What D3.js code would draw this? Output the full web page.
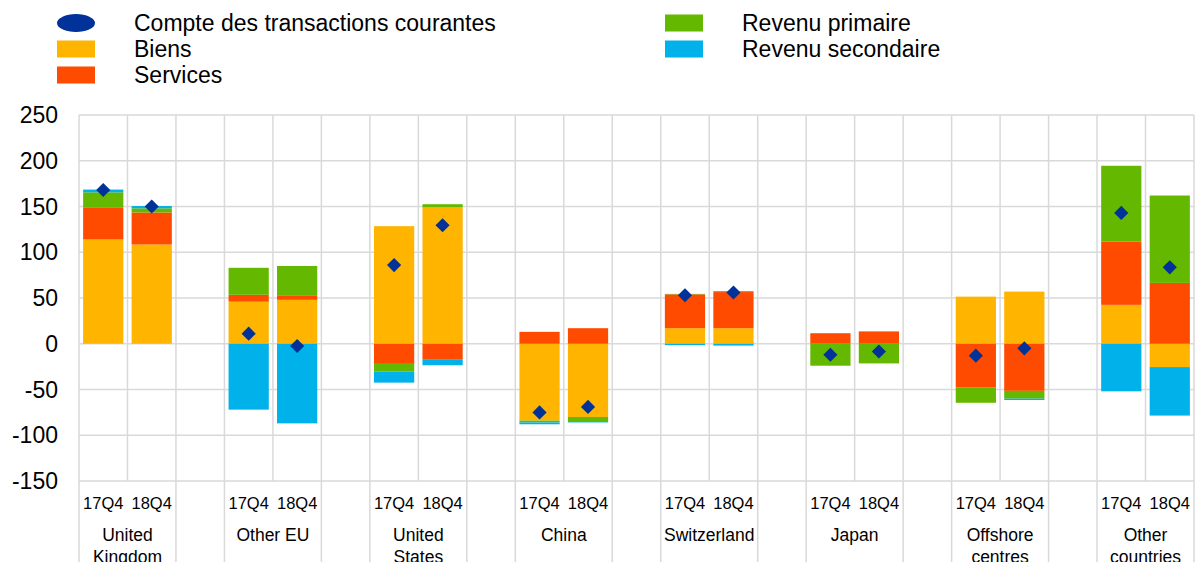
<!DOCTYPE html>
<html>
<head>
<meta charset="utf-8">
<script src="https://cdn.jsdelivr.net/npm/d3@7"></script>
<style>
  body { margin: 0; background: #fff; }
  svg { display: block; font-family: "Liberation Sans", Arial, sans-serif; }
</style>
</head>
<body>
<svg id="chart" width="1196" height="562"></svg>
<script>
// categories
const countries = ["United\nKingdom", "Other EU", "United\nStates", "China", "Switzerland", "Japan", "Offshore\ncentres", "Other\ncountries"]
const periods = ["17Q4", "18Q4"]

// components, [17Q4, 18Q4] per country
const goods     = [[114, 108.5], [46, 48], [128.5, 149], [-84, -80], [17, 17], [0, 0], [51.5, 57], [42.5, -25.5]]
const services  = [[34.5, 35], [7.5, 5], [-22, -17.5], [13, 17], [37, 39.5], [11.5, 13.5], [-47.5, -51.5], [69, 66.5]]
const primary   = [[17, 4.5], [29.5, 32], [-8.5, 3.5], [-2, -4.5], [0.5, 1], [-24, -21.5], [-17, -8.5], [83, 95.5]]
const secondary = [[3, 2.5], [-72, -87], [-12, -6], [-2, -1.5], [-1.5, -2], [0, 0], [0, -1.5], [-52, -53]]
const current   = [[168, 150], [11, -2.5], [86, 129.5], [-75, -69], [53, 56], [-12, -8.5], [-13, -5], [143, 83.5]]

const yTicks = [250, 200, 150, 100, 50, 0, -50, -100, -150]

const series = [
  { name: 'Biens', values: goods, color: '#ffb400' },
  { name: 'Services', values: services, color: '#ff4b00' },
  { name: 'Revenu primaire', values: primary, color: '#65b800' },
  { name: 'Revenu secondaire', values: secondary, color: '#00b1ea' }
]

const svg = d3.select('#chart')
const plotL = 79, plotR = 1194, plotT = 115, plotB = 481

// slot keys: two periods per country plus a gap slot between countries
const slots = []
countries.forEach((c, i) => {
  periods.forEach(p => slots.push(i + '|' + p))
  if (i < countries.length - 1) slots.push(i + '|gap')
})

const x = d3.scaleBand().domain(slots).range([plotL, plotR]).padding(0)
const y = d3.scaleLinear().domain([-150, 250]).range([plotB, plotT])
const bw = x.bandwidth()
const barW = bw * 0.83

// grid
const grid = svg.append('g').attr('stroke', '#d9d9d9').attr('stroke-width', 1.5)
grid.selectAll('line.h').data(yTicks).enter().append('line')
  .attr('x1', plotL).attr('x2', plotR)
  .attr('y1', d => y(d)).attr('y2', d => y(d))
const bounds = slots.map(s => x(s)).concat([plotR])
grid.selectAll('line.v').data(bounds).enter().append('line')
  .attr('x1', d => d).attr('x2', d => d)
  .attr('y1', plotT).attr('y2', plotB)
// group separators in the label area
const groupEdges = []
countries.forEach((c, i) => {
  groupEdges.push(x(i + '|17Q4'))
  groupEdges.push(x(i + '|18Q4') + bw)
})
grid.selectAll('line.g').data(groupEdges).enter().append('line')
  .attr('x1', d => d).attr('x2', d => d)
  .attr('y1', plotB).attr('y2', 562)

// y axis labels
svg.append('g').selectAll('text').data(yTicks).enter().append('text')
  .attr('x', 58).attr('y', d => y(d)).attr('dy', '0.35em')
  .attr('text-anchor', 'end').attr('font-size', 23).attr('fill', '#000')
  .text(d => d)

// stacked bars (positives up, negatives down)
const rects = []
countries.forEach((c, i) => {
  periods.forEach((p, j) => {
    let pos = 0, neg = 0
    series.forEach(s => {
      const v = s.values[i][j]
      if (v >= 0) { rects.push({ key: i + '|' + p, y0: pos, y1: pos + v, color: s.color }); pos += v }
      else { rects.push({ key: i + '|' + p, y0: neg + v, y1: neg, color: s.color }); neg += v }
    })
  })
})
svg.append('g').selectAll('rect').data(rects.filter(d => d.y1 - d.y0 > 0)).enter().append('rect')
  .attr('x', d => x(d.key) + (bw - barW) / 2)
  .attr('width', barW)
  .attr('y', d => y(d.y1))
  .attr('height', d => y(d.y0) - y(d.y1))
  .attr('fill', d => d.color)

// current account diamonds
const pts = []
countries.forEach((c, i) => periods.forEach((p, j) => pts.push({ key: i + '|' + p, v: current[i][j] })))
svg.append('g').selectAll('path').data(pts).enter().append('path')
  .attr('transform', d => `translate(${x(d.key) + bw / 2},${y(d.v)}) rotate(45)`)
  .attr('d', d3.symbol(d3.symbolSquare, 100))
  .attr('fill', '#003299')

// period labels
svg.append('g').selectAll('text').data(pts).enter().append('text')
  .attr('x', d => x(d.key) + bw / 2).attr('y', 509)
  .attr('text-anchor', 'middle').attr('font-size', 16.5).attr('fill', '#000')
  .text(d => d.key.split('|')[1])

// country labels
const cl = svg.append('g').selectAll('text').data(countries).enter().append('text')
  .attr('x', (d, i) => x(i + '|18Q4')).attr('y', 541)
  .attr('text-anchor', 'middle').attr('font-size', 17.5).attr('fill', '#000')
cl.selectAll('tspan').data(d => d.split('\n')).enter().append('tspan')
  .attr('x', function () { return d3.select(this.parentNode).attr('x') })
  .attr('dy', (d, k) => k === 0 ? 0 : 22)
  .text(d => d)

// legend
const legend = svg.append('g').attr('font-size', 23).attr('fill', '#000')
legend.append('ellipse').attr('cx', 76).attr('cy', 23).attr('rx', 19).attr('ry', 9).attr('fill', '#003299')
legend.append('text').attr('x', 134).attr('y', 23).attr('dy', '0.35em').text('Compte des transactions courantes')
const legItems = [
  { s: series[0], x: 57, y: 49 },
  { s: series[1], x: 57, y: 75 },
  { s: series[2], x: 665, y: 23 },
  { s: series[3], x: 665, y: 49 }
]
legItems.forEach(d => {
  legend.append('rect').attr('x', d.x).attr('y', d.y - 8.5).attr('width', 38).attr('height', 17).attr('fill', d.s.color)
  legend.append('text').attr('x', d.x + 77).attr('y', d.y).attr('dy', '0.35em').text(d.s.name)
})
</script>
</body>
</html>
